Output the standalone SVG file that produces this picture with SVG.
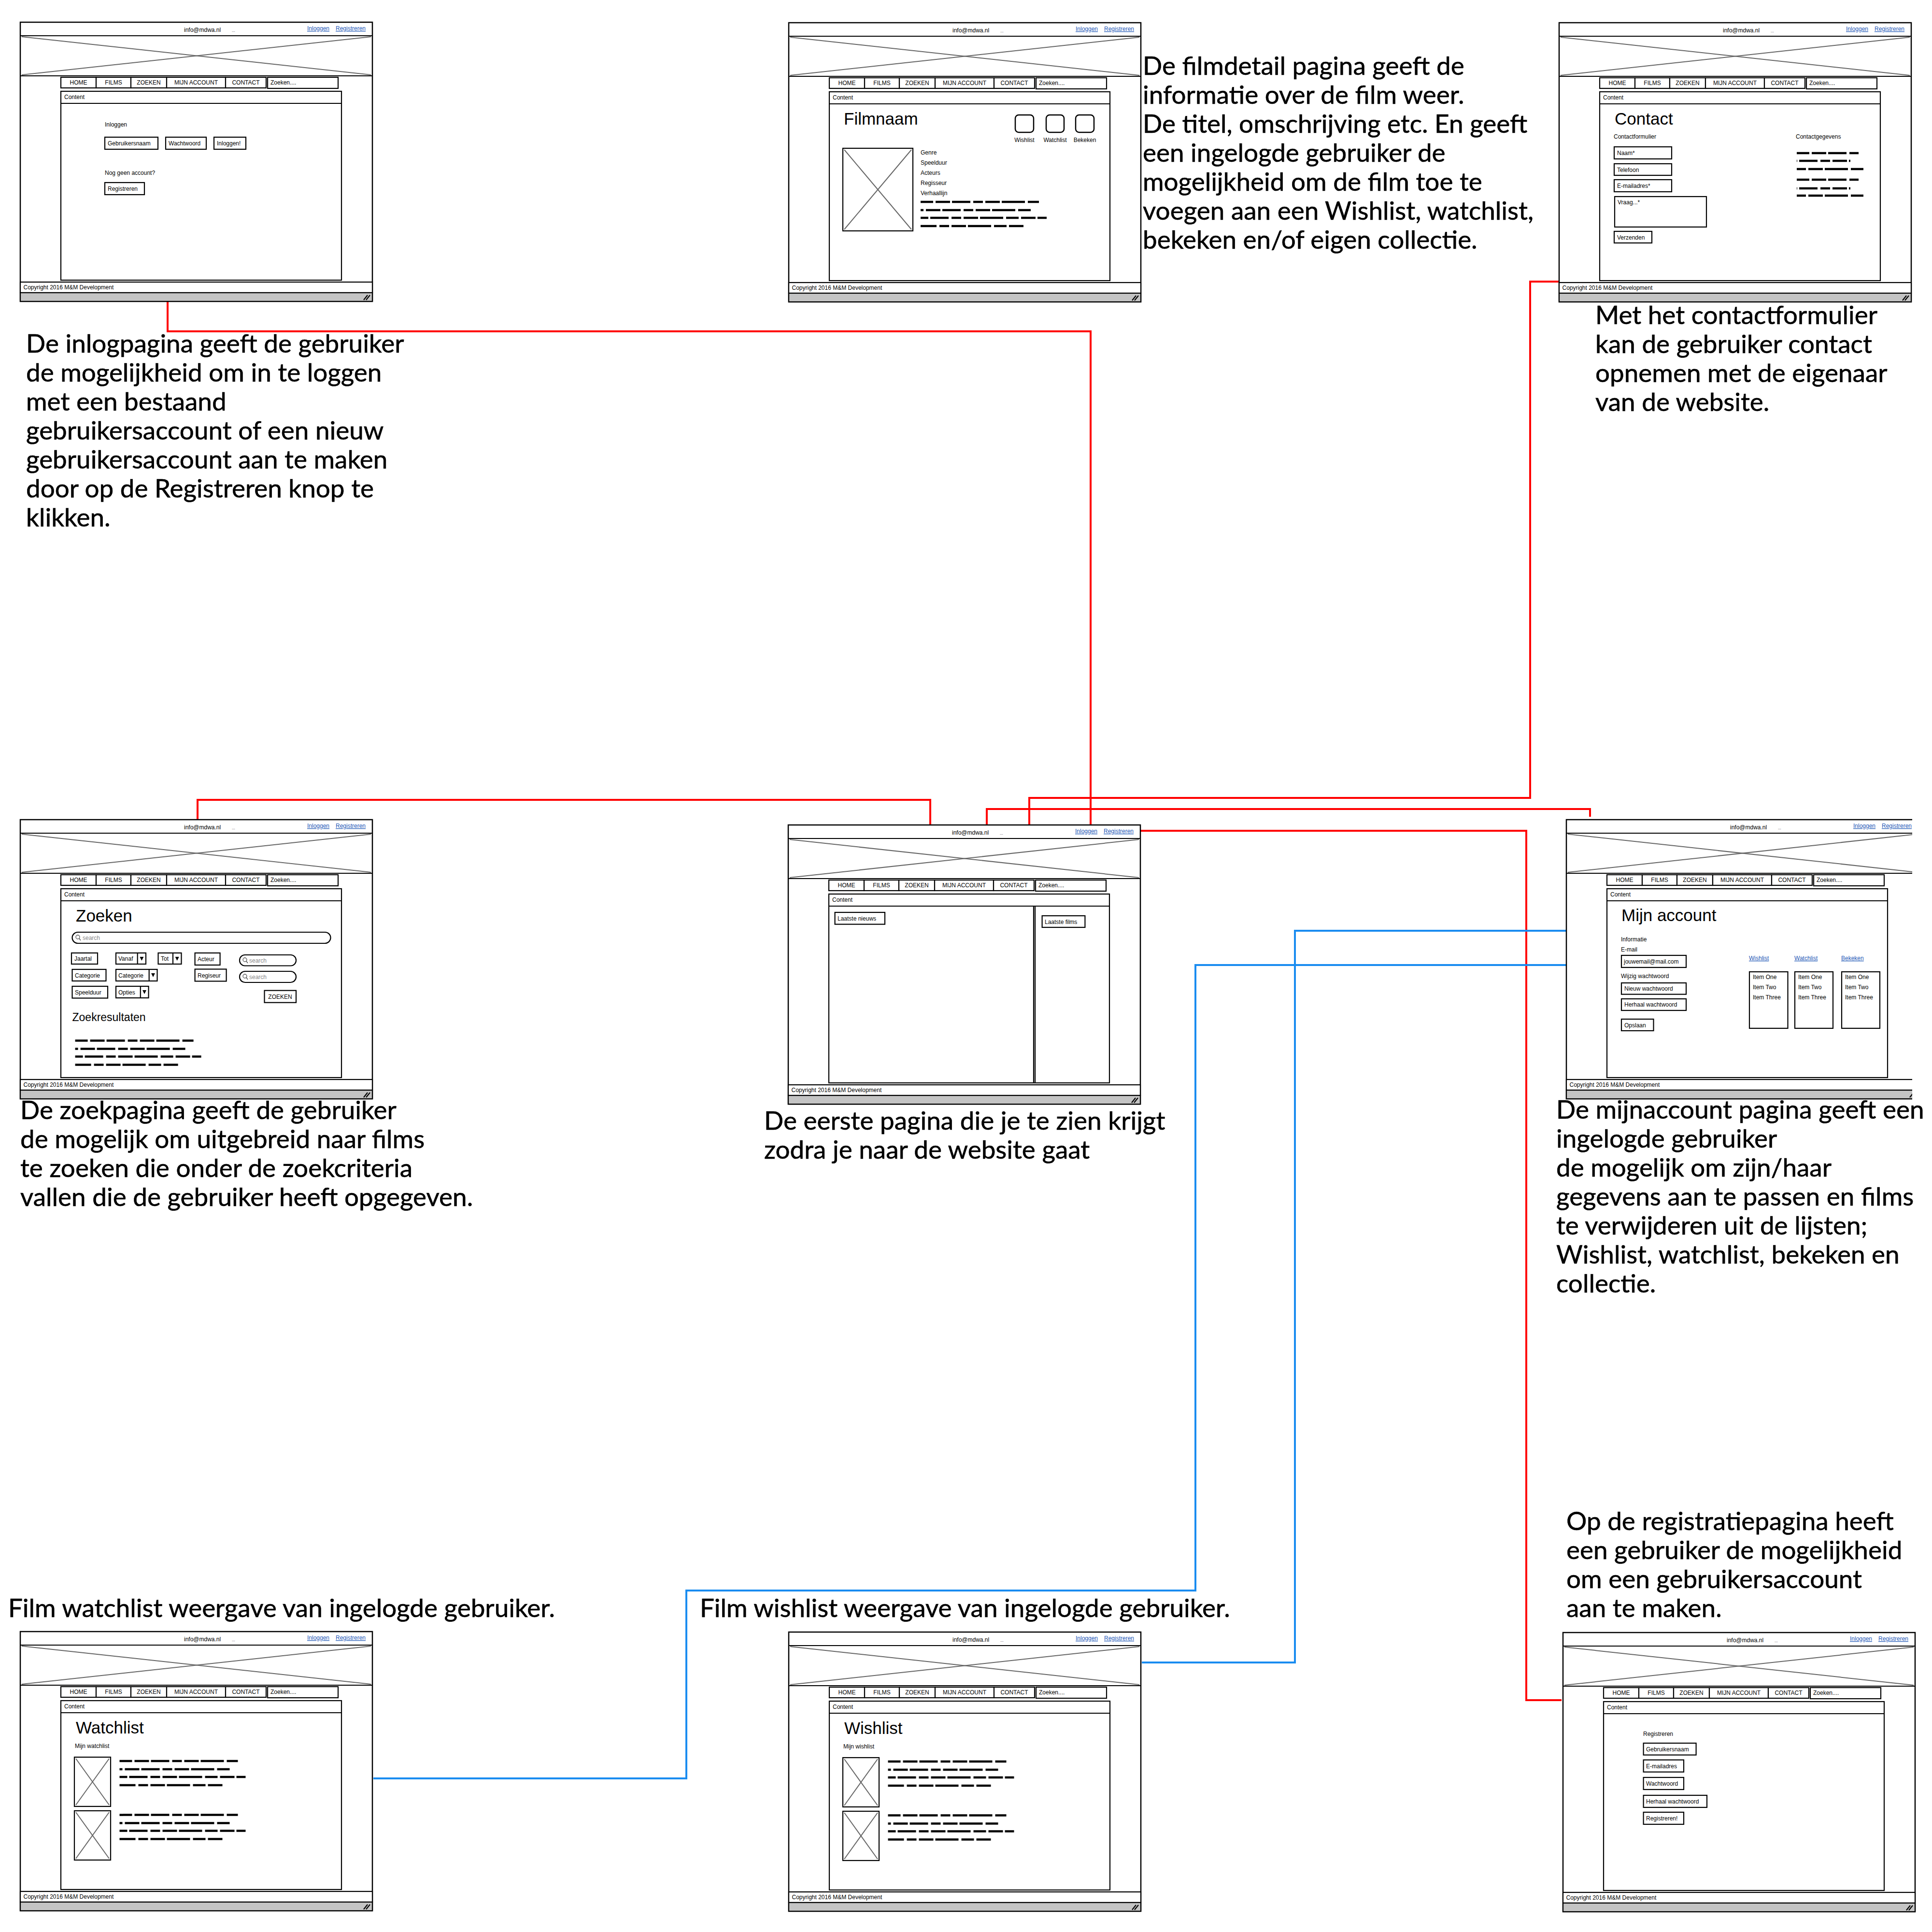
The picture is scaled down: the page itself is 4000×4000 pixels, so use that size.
<svg xmlns="http://www.w3.org/2000/svg" width="4000" height="4000" viewBox="0 0 4000 4000">
<style>
.bg{fill:#fff}
.fr{fill:#fff;stroke:#000;stroke-width:2.5}
.ln{stroke:#000;stroke-width:2.2;fill:none}
.bx{fill:#fff;stroke:#000;stroke-width:2.2}
.cb{fill:#fff;stroke:#000;stroke-width:2.5}
.xl{stroke:#666;stroke-width:2;fill:none}
.gray{fill:#c4c4c4;stroke:#000;stroke-width:2.2}
.t{font-family:"Liberation Sans",Arial,sans-serif;font-size:12px;fill:#000}
.sm{font-size:8px}
.lk{fill:#1d56b5;text-decoration:underline}
.ph{fill:#888}
.h1{font-size:35px}
.h2{font-size:23px}
.mid{text-anchor:middle}
.sc{stroke:#000;stroke-width:4.5;fill:none;stroke-dasharray:26 5 30 4 38 6 20 5 30 4 48 6}
.tri{fill:#000}
.cap{font-family:Lato,"Liberation Sans",sans-serif;font-size:53px;fill:#000;stroke:#000;stroke-width:0.6}
.red{stroke:#ff0000;stroke-width:4;fill:none}
.blue{stroke:#1a8cf0;stroke-width:4;fill:none}
</style>
<defs>
<g id="chrome">
<rect class="fr" x="0" y="0" width="729" height="578"/>
<line class="ln" x1="0" y1="28" x2="729" y2="28"/>
<line class="ln" x1="0" y1="111" x2="729" y2="111"/>
<line class="xl" x1="3" y1="30" x2="726" y2="109"/>
<line class="xl" x1="3" y1="109" x2="726" y2="30"/>
<text class="t" x="339" y="19.5">info@mdwa.nl</text>
<text class="t sm" x="438" y="20">...</text>
<text class="t lk" x="594" y="17">Inloggen</text>
<text class="t lk" x="653" y="17">Registreren</text>
<rect class="bx" x="84" y="114" width="73" height="22"/>
<rect class="bx" x="157" y="114" width="72" height="22"/>
<rect class="bx" x="229" y="114" width="74" height="22"/>
<rect class="bx" x="303" y="114" width="122" height="22"/>
<rect class="bx" x="425" y="114" width="84" height="22"/>
<rect class="bx" x="512" y="114" width="146" height="23"/>
<text class="t mid" x="120.5" y="129">HOME</text>
<text class="t mid" x="193" y="129">FILMS</text>
<text class="t mid" x="266" y="129">ZOEKEN</text>
<text class="t mid" x="364" y="129">MIJN ACCOUNT</text>
<text class="t mid" x="467" y="129">CONTACT</text>
<text class="t" x="518" y="129">Zoeken....</text>
<rect class="bx" x="84" y="143" width="581" height="391"/>
<line class="ln" x1="84" y1="168" x2="665" y2="168"/>
<text class="t" x="91" y="159">Content</text>
<rect class="bx" x="0" y="538" width="729" height="22"/>
<text class="t" x="6.5" y="553">Copyright 2016 M&amp;M Development</text>
<rect class="gray" x="0" y="560" width="729" height="18"/>
<line class="ln" x1="711" y1="575" x2="719" y2="565"/>
<line class="ln" x1="716" y1="575" x2="724" y2="565"/>
</g>
<g id="poster">
<rect class="bx" x="0" y="0" width="75" height="102"/>
<line class="xl" x1="3" y1="3" x2="72" y2="99"/>
<line class="xl" x1="72" y1="3" x2="3" y2="99"/>
</g>
<g id="scrib4">
<line class="sc" x1="0" y1="0" x2="245" y2="0"/>
<line class="sc" x1="0" y1="17" x2="233" y2="17" style="stroke-dashoffset:20"/>
<line class="sc" x1="0" y1="33" x2="261" y2="33" style="stroke-dashoffset:45"/>
<line class="sc" x1="0" y1="50" x2="215" y2="50" style="stroke-dashoffset:70"/>
</g>
<g id="mag">
<circle cx="0" cy="0" r="4" fill="none" stroke="#555" stroke-width="1.3"/>
<line x1="2.8" y1="2.8" x2="6" y2="7" stroke="#555" stroke-width="1.5"/>
</g>
<clipPath id="clipMa"><rect x="-10" y="-10" width="726" height="600"/></clipPath>
</defs>
<rect class="bg" x="0" y="0" width="4000" height="4000"/>

<g id="connectors">
<polyline class="red" points="347,625 347,686 2258,686 2258,1709"/>
<polyline class="red" points="409,1697 409,1656 1926,1656 1926,1833"/>
<polyline class="red" points="2043,1833 2043,1675 3292,1675 3292,1691"/>
<polyline class="red" points="3227,583 3168,583 3168,1652 2131,1652 2131,1833"/>
<polyline class="red" points="2358,1720 3160,1720 3160,3520 3233,3520"/>
<polyline class="blue" points="2364,3442 2681,3442 2681,1927 3552,1927 3552,1982 3618,1982"/>
<polyline class="blue" points="773,3682 1421,3682 1421,3293 2475,3293 2475,1998 3713,1998"/>
</g>

<g id="page-inloggen" transform="translate(42,46)">
<use href="#chrome"/>
<text class="t" x="175" y="216">Inloggen</text>
<rect class="bx" x="175" y="238" width="110" height="25"/><text class="t" x="181" y="255">Gebruikersnaam</text>
<rect class="bx" x="301" y="238" width="84" height="25"/><text class="t" x="307" y="255">Wachtwoord</text>
<rect class="bx" x="401" y="238" width="66" height="25"/><text class="t" x="407" y="255">Inloggen!</text>
<text class="t" x="175" y="316">Nog geen account?</text>
<rect class="bx" x="175" y="332" width="82" height="25"/><text class="t" x="181" y="349">Registreren</text>
</g>

<g id="page-filmdetail" transform="translate(1633,47)">
<use href="#chrome"/>
<text class="t h1" x="114" y="211">Filmnaam</text>
<rect class="cb" x="469" y="191" width="38" height="36" rx="7"/>
<rect class="cb" x="533" y="191" width="37" height="36" rx="7"/>
<rect class="cb" x="594" y="191" width="38" height="36" rx="7"/>
<text class="t mid" x="488" y="247">Wishlist</text>
<text class="t mid" x="551.5" y="247">Watchlist</text>
<text class="t mid" x="613" y="247">Bekeken</text>
<rect class="bx" x="112" y="260" width="145" height="171"/>
<line class="xl" x1="115" y1="263" x2="254" y2="428"/>
<line class="xl" x1="254" y1="263" x2="115" y2="428"/>
<text class="t" x="273" y="273">Genre</text>
<text class="t" x="273" y="294">Speelduur</text>
<text class="t" x="273" y="315">Acteurs</text>
<text class="t" x="273" y="336">Regisseur</text>
<text class="t" x="273" y="357">Verhaallijn</text>
<use href="#scrib4" x="273" y="371"/>
</g>

<g id="page-contact" transform="translate(3228,47)">
<use href="#chrome"/>
<text class="t h1" x="115" y="211">Contact</text>
<text class="t" x="113" y="240">Contactformulier</text>
<text class="t" x="490" y="240">Contactgegevens</text>
<rect class="bx" x="114" y="257" width="119" height="25"/><text class="t" x="120" y="274">Naam*</text>
<rect class="bx" x="114" y="292" width="119" height="24"/><text class="t" x="120" y="309">Telefoon</text>
<rect class="bx" x="114" y="325" width="119" height="25"/><text class="t" x="120" y="342">E-mailadres*</text>
<rect class="bx" x="115" y="360" width="190" height="63"/><text class="t" x="121" y="376">Vraag...*</text>
<rect class="bx" x="114" y="432" width="78" height="24"/><text class="t" x="120" y="449">Verzenden</text>
<line class="sc" x1="492" y1="270" x2="620" y2="270"/>
<line class="sc" x1="492" y1="286" x2="603" y2="286" style="stroke-dashoffset:60"/>
<line class="sc" x1="492" y1="303" x2="631" y2="303" style="stroke-dashoffset:110"/>
<line class="sc" x1="492" y1="325" x2="620" y2="325"/>
<line class="sc" x1="492" y1="343" x2="603" y2="343" style="stroke-dashoffset:60"/>
<line class="sc" x1="492" y1="358" x2="631" y2="358" style="stroke-dashoffset:110"/>
</g>

<g id="page-zoeken" transform="translate(42,1697)">
<use href="#chrome"/>
<text class="t h1" x="115" y="211">Zoeken</text>
<rect class="bx" x="107.5" y="233" width="535" height="23" rx="11.5"/>
<use href="#mag" x="119" y="243"/><text class="t ph" x="129" y="249">search</text>
<rect class="bx" x="106" y="276" width="54" height="23"/><text class="t" x="112" y="292">Jaartal</text>
<rect class="bx" x="198" y="276" width="62" height="23"/><line class="ln" x1="242.7" y1="276" x2="242.7" y2="299"/><text class="t" x="203" y="292">Vanaf</text><path class="tri" d="M247.4,284 h8 l-4,8 z"/>
<rect class="bx" x="285.5" y="276" width="48" height="23"/><line class="ln" x1="316" y1="276" x2="316" y2="299"/><text class="t" x="291" y="292">Tot</text><path class="tri" d="M320.7,284 h8 l-4,8 z"/>
<rect class="bx" x="361.6" y="276" width="52" height="25"/><text class="t" x="367" y="293">Acteur</text>
<rect class="bx" x="454" y="280" width="117" height="22.5" rx="11"/><use href="#mag" x="465" y="290"/><text class="t ph" x="474" y="296">search</text>
<rect class="bx" x="107.5" y="310" width="70" height="24"/><text class="t" x="113" y="327">Categorie</text>
<rect class="bx" x="198" y="310" width="85.5" height="24"/><line class="ln" x1="266.7" y1="310" x2="266.7" y2="334"/><text class="t" x="203" y="327">Categorie</text><path class="tri" d="M271,318 h8 l-4,8 z"/>
<rect class="bx" x="361.6" y="309.5" width="65" height="25"/><text class="t" x="367" y="327">Regiseur</text>
<rect class="bx" x="454" y="314" width="117" height="23" rx="11.5"/><use href="#mag" x="465" y="324"/><text class="t ph" x="474" y="330">search</text>
<rect class="bx" x="107.5" y="345" width="73.5" height="24.5"/><text class="t" x="113" y="362">Speelduur</text>
<rect class="bx" x="198" y="345" width="67.6" height="24"/><line class="ln" x1="248.8" y1="345" x2="248.8" y2="369"/><text class="t" x="203" y="362">Opties</text><path class="tri" d="M253,353 h8 l-4,8 z"/>
<rect class="bx" x="505.5" y="353.7" width="65.5" height="25"/><text class="t mid" x="538" y="371">ZOEKEN</text>
<text class="t h2" x="107.5" y="416.7">Zoekresultaten</text>
<use href="#scrib4" x="113.6" y="457.5"/>
</g>

<g id="page-home" transform="translate(1632,1708)">
<use href="#chrome"/>
<line class="ln" x1="508" y1="167" x2="508" y2="534"/>
<line class="ln" x1="511" y1="168" x2="511" y2="534"/>
<rect class="bx" x="96.6" y="181" width="103.4" height="24.6"/><text class="t" x="102" y="198">Laatste nieuws</text>
<rect class="bx" x="525.6" y="188" width="88.8" height="24"/><text class="t" x="531" y="205">Laatste films</text>
</g>

<g id="page-mijnaccount" transform="translate(3243,1697)">
<g clip-path="url(#clipMa)">
<use href="#chrome"/>
<text class="t h1" x="114" y="210">Mijn account</text>
<text class="t" x="113" y="252">Informatie</text>
<text class="t" x="113" y="273">E-mail</text>
<rect class="bx" x="114" y="281" width="134" height="25"/><text class="t" x="119" y="298">jouwemail@mail.com</text>
<text class="t" x="113" y="328">Wijzig wachtwoord</text>
<rect class="bx" x="114" y="338" width="134" height="23.6"/><text class="t" x="120" y="354">Nieuw wachtwoord</text>
<rect class="bx" x="114" y="371" width="134" height="24"/><text class="t" x="120" y="387">Herhaal wachtwoord</text>
<rect class="bx" x="114" y="413" width="66.5" height="24"/><text class="t" x="120" y="430">Opslaan</text>
<text class="t lk" x="378" y="291">Wishlist</text>
<text class="t lk" x="472" y="291">Watchlist</text>
<text class="t lk" x="569" y="291">Bekeken</text>
<rect class="bx" x="379" y="315" width="79.5" height="117"/>
<rect class="bx" x="473" y="315" width="79" height="117"/>
<rect class="bx" x="570" y="315" width="79" height="117"/>
<text class="t" x="386" y="330">Item One</text><text class="t" x="386" y="351">Item Two</text><text class="t" x="386" y="372">Item Three</text>
<text class="t" x="480" y="330">Item One</text><text class="t" x="480" y="351">Item Two</text><text class="t" x="480" y="372">Item Three</text>
<text class="t" x="577" y="330">Item One</text><text class="t" x="577" y="351">Item Two</text><text class="t" x="577" y="372">Item Three</text>
</g>
</g>

<g id="page-watchlist" transform="translate(42,3378)">
<use href="#chrome"/>
<text class="t h1" x="115" y="211">Watchlist</text>
<text class="t" x="113" y="241">Mijn watchlist</text>
<use href="#poster" x="112" y="260"/>
<use href="#poster" x="112" y="371"/>
<use href="#scrib4" x="205.5" y="268"/>
<use href="#scrib4" x="205.5" y="379.6"/>
</g>

<g id="page-wishlist" transform="translate(1633,3379)">
<use href="#chrome"/>
<text class="t h1" x="115" y="211">Wishlist</text>
<text class="t" x="113" y="241">Mijn wishlist</text>
<use href="#poster" x="112" y="260"/>
<use href="#poster" x="112" y="371"/>
<use href="#scrib4" x="205.5" y="268"/>
<use href="#scrib4" x="205.5" y="379.6"/>
</g>

<g id="page-registratie" transform="translate(3236,3380)">
<use href="#chrome"/>
<text class="t" x="166" y="214">Registreren</text>
<rect class="bx" x="166.6" y="229" width="109" height="24.5"/><text class="t" x="172" y="246">Gebruikersnaam</text>
<rect class="bx" x="166.6" y="263.7" width="83.4" height="25"/><text class="t" x="172" y="281">E-mailadres</text>
<rect class="bx" x="166.6" y="300" width="83.4" height="25"/><text class="t" x="172" y="317">Wachtwoord</text>
<rect class="bx" x="166.6" y="337" width="131.4" height="25"/><text class="t" x="172" y="354">Herhaal wachtwoord</text>
<rect class="bx" x="166.6" y="372" width="83.4" height="25"/><text class="t" x="172" y="389">Registreren!</text>
</g>

<g id="labels">
<text class="cap" x="54" y="730">De inlogpagina geeft de gebruiker</text>
<text class="cap" x="54" y="790">de mogelijkheid om in te loggen</text>
<text class="cap" x="54" y="850">met een bestaand</text>
<text class="cap" x="54" y="910">gebruikersaccount of een nieuw</text>
<text class="cap" x="54" y="970">gebruikersaccount aan te maken</text>
<text class="cap" x="54" y="1030">door op de Registreren knop te</text>
<text class="cap" x="54" y="1090">klikken.</text>

<text class="cap" x="2366" y="155">De filmdetail pagina geeft de</text>
<text class="cap" x="2366" y="215">informatie over de film weer.</text>
<text class="cap" x="2366" y="275">De titel, omschrijving etc. En geeft</text>
<text class="cap" x="2366" y="335">een ingelogde gebruiker de</text>
<text class="cap" x="2366" y="395">mogelijkheid om de film toe te</text>
<text class="cap" x="2366" y="455">voegen aan een Wishlist, watchlist,</text>
<text class="cap" x="2366" y="515">bekeken en/of eigen collectie.</text>

<text class="cap" x="3303" y="671">Met het contactformulier</text>
<text class="cap" x="3303" y="731">kan de gebruiker contact</text>
<text class="cap" x="3303" y="791">opnemen met de eigenaar</text>
<text class="cap" x="3303" y="851">van de website.</text>

<text class="cap" x="42" y="2317">De zoekpagina geeft de gebruiker</text>
<text class="cap" x="42" y="2377">de mogelijk om uitgebreid naar films</text>
<text class="cap" x="42" y="2437">te zoeken die onder de zoekcriteria</text>
<text class="cap" x="42" y="2497">vallen die de gebruiker heeft opgegeven.</text>

<text class="cap" x="1582" y="2339">De eerste pagina die je te zien krijgt</text>
<text class="cap" x="1582" y="2399">zodra je naar de website gaat</text>

<text class="cap" x="3222" y="2316">De mijnaccount pagina geeft een</text>
<text class="cap" x="3222" y="2376">ingelogde gebruiker</text>
<text class="cap" x="3222" y="2436">de mogelijk om zijn/haar</text>
<text class="cap" x="3222" y="2496">gegevens aan te passen en films</text>
<text class="cap" x="3222" y="2556">te verwijderen uit de lijsten;</text>
<text class="cap" x="3222" y="2616">Wishlist, watchlist, bekeken en</text>
<text class="cap" x="3222" y="2676">collectie.</text>

<text class="cap" x="3243" y="3168">Op de registratiepagina heeft</text>
<text class="cap" x="3243" y="3228">een gebruiker de mogelijkheid</text>
<text class="cap" x="3243" y="3288">om een gebruikersaccount</text>
<text class="cap" x="3243" y="3348">aan te maken.</text>

<text class="cap" x="17" y="3348">Film watchlist weergave van ingelogde gebruiker.</text>
<text class="cap" x="1449" y="3348">Film wishlist weergave van ingelogde gebruiker.</text>
</g>
</svg>
